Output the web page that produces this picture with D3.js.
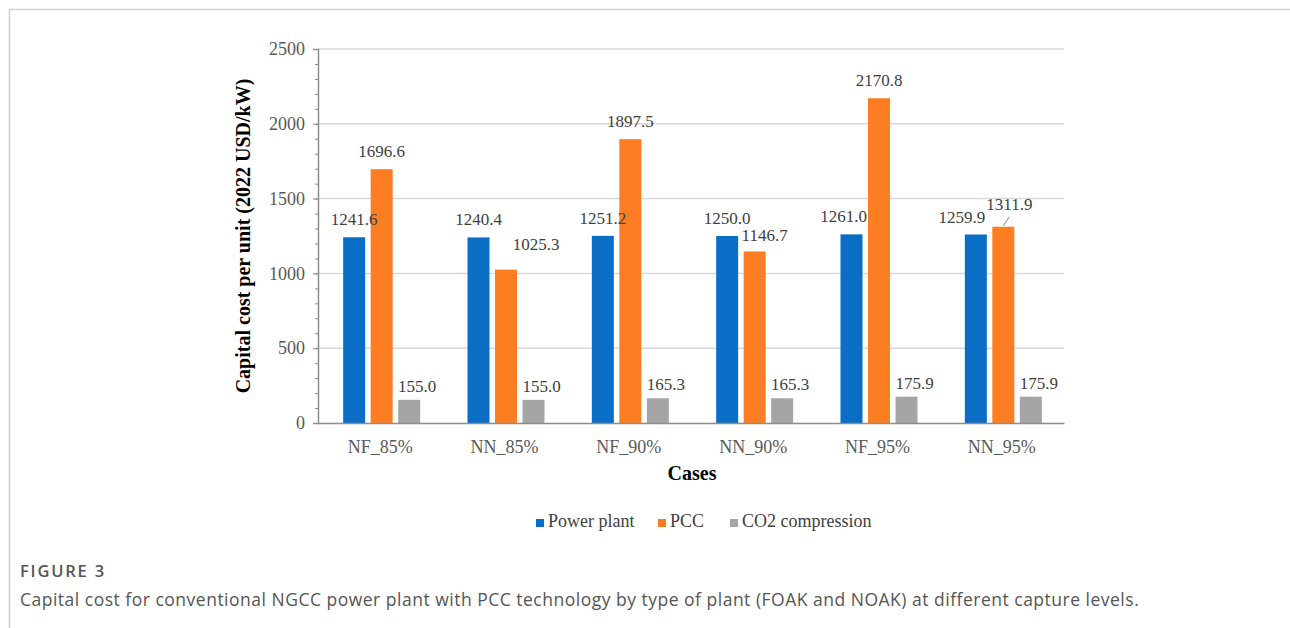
<!DOCTYPE html>
<html>
<head>
<meta charset="utf-8">
<script src="https://cdn.jsdelivr.net/npm/d3@7"></script>
<style>
  body { margin: 0; background: #fff; }
  svg { display: block; }
</style>
</head>
<body>
<script>
// data
var cases = ["NF_85%", "NN_85%", "NF_90%", "NN_90%", "NF_95%", "NN_95%"];
var seriesNames = ["Power plant", "PCC", "CO2 compression"];
var powerPlant = [1241.6, 1240.4, 1251.2, 1250.0, 1261.0, 1259.9];
var pcc = [1696.6, 1025.3, 1897.5, 1146.7, 2170.8, 1311.9];
var co2Compression = [155.0, 155.0, 165.3, 165.3, 175.9, 175.9];
var yTicks = [0, 500, 1000, 1500, 2000, 2500];

var colors = ["#0a6ec6", "#fd7e22", "#a5a5a5"];
var serif = "'Liberation Serif', 'Times New Roman', serif";

// label nudges (dx, dy from default spot above the bar)
var nudge = {
  "PCC|NN_85%": [30, -8],
  "PCC|NN_90%": [10, 2],
  "PCC|NN_95%": [6, -5],
  "Power plant|NN_95%": [-14, 0],
  "Power plant|NF_95%": [-8, 0]
};

var W = 1290, H = 628;
var margin = {top: 49, left: 318, right: 226, bottom: 205};
var width = W - margin.left - margin.right,
    height = H - margin.top - margin.bottom;

var svg = d3.select("body").append("svg")
    .attr("width", W)
    .attr("height", H);

// page frame lines
svg.append("line").attr("x1", 9).attr("x2", W).attr("y1", 9.5).attr("y2", 9.5)
    .attr("stroke", "#cfcfcf").attr("stroke-width", 1.5);
svg.append("line").attr("x1", 9.5).attr("x2", 9.5).attr("y1", 9).attr("y2", H)
    .attr("stroke", "#cfcfcf").attr("stroke-width", 1.5);

var g = svg.append("g")
    .attr("transform", "translate(" + margin.left + "," + margin.top + ")");

var x0 = d3.scaleBand().domain(cases).range([0, width]);
var x1 = d3.scaleBand().domain(seriesNames).range([-37, 40]).paddingInner(0.2);
var y = d3.scaleLinear().domain([0, 2500]).range([height, 0]);

// gridlines
g.selectAll(".grid").data(yTicks.slice(1)).enter().append("line")
    .attr("x1", 0).attr("x2", width)
    .attr("y1", function(d) { return y(d); })
    .attr("y2", function(d) { return y(d); })
    .attr("stroke", "#d9d9d9").attr("stroke-width", 1.5);

// y axis with minor ticks
g.append("g")
    .call(d3.axisLeft(y).tickValues(d3.range(0, 2501, 100)).tickSize(3).tickFormat(""))
    .call(function(a) { a.select(".domain").remove(); })
    .selectAll("line").attr("stroke", "#8c8c8c");
var yAxis = g.append("g")
    .call(d3.axisLeft(y).tickValues(yTicks).tickSize(5).tickPadding(8).tickFormat(d3.format("d")));
yAxis.select(".domain").attr("stroke", "#8c8c8c").attr("stroke-width", 1.5);
yAxis.selectAll("line").attr("stroke", "#8c8c8c");
yAxis.selectAll("text")
    .style("font-family", serif)
    .style("font-size", "18px").attr("fill", "#595959");

// bars
var values = [powerPlant, pcc, co2Compression];
var points = [];
seriesNames.forEach(function(name, i) {
  cases.forEach(function(c, j) {
    points.push({name: name, cat: c, value: values[i][j], idx: i});
  });
});

function barX(d) { return x0(d.cat) + x0.bandwidth() / 2 + x1(d.name); }

g.append("g").selectAll("rect").data(points).enter().append("rect")
    .attr("x", barX)
    .attr("y", function(d) { return y(d.value); })
    .attr("width", x1.bandwidth())
    .attr("height", function(d) { return height - y(d.value); })
    .attr("fill", function(d) { return colors[d.idx]; });

// data labels (drawn on top of all bars)
g.append("g").selectAll("text").data(points).enter().append("text")
    .attr("x", function(d) {
      var n = nudge[d.name + "|" + d.cat] || [d.idx == 2 ? 8 : 0, 0];
      return barX(d) + x1.bandwidth() / 2 + n[0];
    })
    .attr("y", function(d) {
      var n = nudge[d.name + "|" + d.cat] || [0, 0];
      return y(d.value) - (d.idx == 2 ? 8 : 12) + n[1];
    })
    .attr("text-anchor", "middle")
    .attr("fill", "#404040")
    .style("font-family", serif)
    .style("font-size", "17px")
    .text(function(d) { return d.value.toFixed(1); });

// leader line for NN_95% PCC
var lx = x0("NN_95%") + x0.bandwidth() / 2 + x1("PCC") + x1.bandwidth() / 2;
g.append("line")
    .attr("x1", lx).attr("y1", y(1311.9) - 1)
    .attr("x2", lx + 6).attr("y2", y(1311.9) - 10)
    .attr("stroke", "#8c8c8c").attr("stroke-width", 1);

// x axis baseline + labels
var xAxis = g.append("g")
    .attr("transform", "translate(0," + height + ")")
    .call(d3.axisBottom(x0).tickSize(0).tickPadding(17));
xAxis.select(".domain").attr("stroke", "#8c8c8c").attr("stroke-width", 1.5);
xAxis.selectAll("text")
    .style("font-family", serif)
    .style("font-size", "18px").attr("fill", "#595959");

// axis titles
svg.append("text")
    .attr("transform", "translate(250," + (margin.top + height / 2) + ") rotate(-90)")
    .attr("text-anchor", "middle")
    .style("font-family", serif)
    .style("font-size", "20px").style("font-weight", "bold")
    .attr("fill", "#000")
    .text("Capital cost per unit (2022 USD/kW)");

svg.append("text")
    .attr("x", 692).attr("y", 480)
    .attr("text-anchor", "middle")
    .style("font-family", serif)
    .style("font-size", "20px").style("font-weight", "bold")
    .attr("fill", "#000")
    .text("Cases");

// legend
var legendX = [536, 658, 730];
var legend = svg.selectAll(".legend").data(seriesNames).enter().append("g")
    .attr("transform", function(d, i) { return "translate(" + legendX[i] + ",518)"; });
legend.append("rect").attr("width", 8).attr("height", 8).attr("y", 1)
    .attr("fill", function(d, i) { return colors[i]; });
legend.append("text").attr("x", 12).attr("y", 9)
    .style("font-family", serif)
    .style("font-size", "18px").attr("fill", "#404040")
    .text(function(d) { return d; });

// caption
svg.append("text")
    .attr("x", 20).attr("y", 577)
    .style("font-family", "'Open Sans', sans-serif")
    .style("font-size", "16.5px").style("font-weight", "600")
    .style("letter-spacing", "1.8px")
    .attr("fill", "#555")
    .text("FIGURE 3");
svg.append("text")
    .attr("x", 20).attr("y", 606)
    .style("font-family", "'Open Sans', sans-serif")
    .style("font-size", "17.5px")
    .style("letter-spacing", "0.5px")
    .attr("fill", "#555")
    .text("Capital cost for conventional NGCC power plant with PCC technology by type of plant (FOAK and NOAK) at different capture levels.");
</script>
</body>
</html>
